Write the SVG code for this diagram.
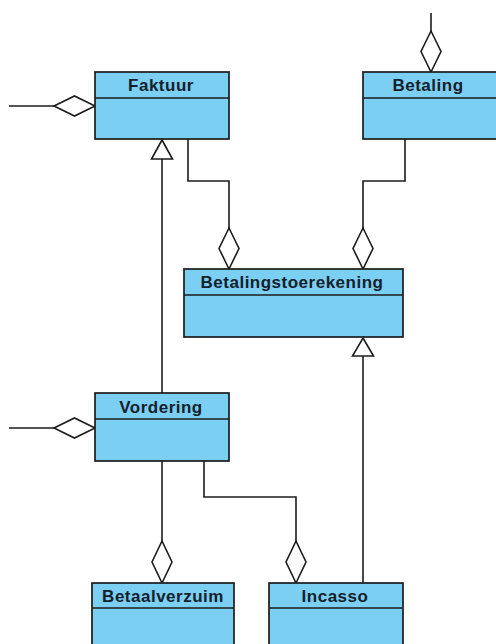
<svg xmlns="http://www.w3.org/2000/svg" width="496" height="644" viewBox="0 0 496 644">
  <style>
    .box { fill: #7ACFF3; stroke: #1c1c1c; stroke-width: 1.7; }
    .div { stroke: #1c1c1c; stroke-width: 1.7; }
    .name { font-family: "Liberation Sans", Arial, sans-serif; font-weight: bold; font-size: 17px; letter-spacing: 0.5px; fill: #14202a; text-anchor: middle; }
    .edge { fill: none; stroke: #1c1c1c; stroke-width: 1.6; }
    .agg { fill: #ffffff; stroke: #1c1c1c; stroke-width: 1.6; stroke-linejoin: miter; }
  </style>
  <rect width="496" height="644" fill="#ffffff"/>

  <!-- connectors: aggregations (hollow diamonds) and generalizations (hollow triangles) -->
  <g id="connectors">
    <!-- external aggregation into Faktuur -->
    <line class="edge" x1="9" y1="106" x2="54" y2="106"/>
    <polygon class="agg" points="54,106 74.5,96 95,106 74.5,116"/>

    <!-- external aggregation into Betaling -->
    <line class="edge" x1="431" y1="13" x2="431" y2="31"/>
    <polygon class="agg" points="431,31 441,51.5 431,72 421,51.5"/>

    <!-- Faktuur to Betalingstoerekening -->
    <polyline class="edge" points="188,139 188,181 229,181 229,228"/>
    <polygon class="agg" points="229,228 239,248.5 229,269 219,248.5"/>

    <!-- Betaling to Betalingstoerekening -->
    <polyline class="edge" points="405,139 405,181 363,181 363,228"/>
    <polygon class="agg" points="363,228 373,248.5 363,269 353,248.5"/>

    <!-- Vordering generalizes to Faktuur -->
    <line class="edge" x1="162" y1="393" x2="162" y2="159"/>
    <polygon class="agg" points="162,140 172.5,159 151.5,159"/>

    <!-- Incasso generalizes to Betalingstoerekening -->
    <line class="edge" x1="363" y1="583" x2="363" y2="356"/>
    <polygon class="agg" points="363,338 373.5,356 352.5,356"/>

    <!-- external aggregation into Vordering -->
    <line class="edge" x1="9" y1="428" x2="54" y2="428"/>
    <polygon class="agg" points="54,428 74.5,418 95,428 74.5,438"/>

    <!-- Vordering to Betaalverzuim -->
    <line class="edge" x1="162" y1="461" x2="162" y2="541"/>
    <polygon class="agg" points="162,541 172,562 162,583 152,562"/>

    <!-- Vordering to Incasso -->
    <polyline class="edge" points="204,461 204,497 296,497 296,541"/>
    <polygon class="agg" points="296,541 306,562 296,583 286,562"/>
  </g>

  <g id="faktuur">
    <rect class="box" x="95" y="72" width="134" height="67"/>
    <line class="div" x1="95" y1="98" x2="229" y2="98"/>
    <text class="name" x="161" y="91">Faktuur</text>
  </g>

  <g id="betaling">
    <rect class="box" x="363" y="72" width="136" height="67"/>
    <line class="div" x1="363" y1="98" x2="499" y2="98"/>
    <text class="name" x="428" y="91">Betaling</text>
  </g>

  <g id="betalingstoerekening">
    <rect class="box" x="184" y="269" width="219" height="68"/>
    <line class="div" x1="184" y1="295" x2="403" y2="295"/>
    <text class="name" x="292" y="288">Betalingstoerekening</text>
  </g>

  <g id="vordering">
    <rect class="box" x="95" y="393" width="134" height="68"/>
    <line class="div" x1="95" y1="419" x2="229" y2="419"/>
    <text class="name" x="161" y="413">Vordering</text>
  </g>

  <g id="betaalverzuim">
    <rect class="box" x="92" y="583" width="142" height="70"/>
    <line class="div" x1="92" y1="608" x2="234" y2="608"/>
    <text class="name" x="163" y="602">Betaalverzuim</text>
  </g>

  <g id="incasso">
    <rect class="box" x="269" y="583" width="134" height="70"/>
    <line class="div" x1="269" y1="608" x2="403" y2="608"/>
    <text class="name" x="335" y="602">Incasso</text>
  </g>
</svg>
